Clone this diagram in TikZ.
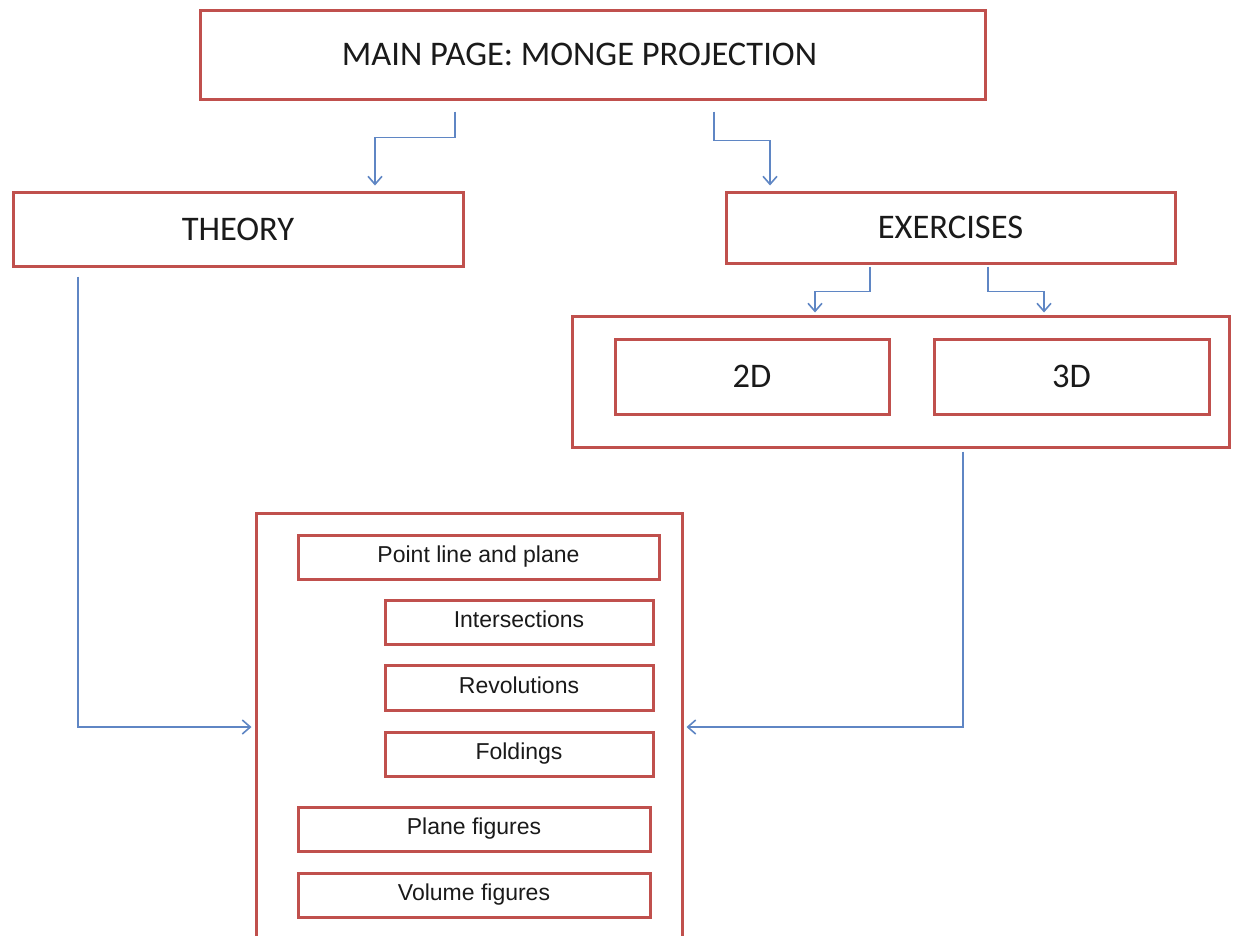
\documentclass[tikz,border=0pt]{standalone}
\usepackage{fontspec}
\usetikzlibrary{arrows.meta}
\newfontfamily\calfont{Carlito}
\newfontfamily\arifont{Liberation Sans}
\definecolor{boxred}{HTML}{C0504D}
\definecolor{linkblue}{HTML}{5F86C4}
\definecolor{txt}{HTML}{1A1A1A}
\tikzset{
  rbox/.style={draw=boxred, line width=3pt, fill=white, inner sep=0pt, text=txt},
  bigtext/.style={font=\calfont\fontsize{34.5}{40}\selectfont},
  smalltext/.style={font=\arifont\fontsize{23}{27}\selectfont},
  conn/.style={draw=linkblue, line width=1.7pt, -{Straight Barb[length=8pt,width=14pt,line width=1.6pt]}}
}
\begin{document}
\begin{tikzpicture}[x=1pt,y=-1pt]
\clip (0,0) rectangle (1235,935);
\useasboundingbox (0,0) rectangle (1235,935);
\fill[white] (0,0) rectangle (1235,935);
% top level
\node[rbox, bigtext, minimum width=785pt, minimum height=89pt] (main) at (592.5,54.5) {\hspace*{-26pt}MAIN PAGE: MONGE PROJECTION};
\node[rbox, bigtext, minimum width=450pt, minimum height=74pt] (theory) at (238,229) {THEORY};
\node[rbox, bigtext, minimum width=449pt, minimum height=71pt] (exercises) at (950.5,227.5) {EXERCISES};
% exercises group
\node[rbox, minimum width=657pt, minimum height=131pt] (outer) at (900.5,381.5) {};
\node[rbox, bigtext, minimum width=274pt, minimum height=75pt] (d2) at (752,376.5) {2D};
\node[rbox, bigtext, minimum width=275pt, minimum height=75pt] (d3) at (1071.5,376.5) {3D};
% content box
\node[rbox, minimum width=426pt, minimum height=447pt] (big) at (469,736.5) {};
\node[rbox, smalltext, minimum width=361pt, minimum height=44pt] (pl) at (478.5,557) {\raisebox{4pt}{Point line and plane}};
\node[rbox, smalltext, minimum width=268pt, minimum height=44pt] (inter) at (519,622) {\raisebox{5pt}{Intersections}};
\node[rbox, smalltext, minimum width=268pt, minimum height=45pt] (rev) at (519,687.5) {\raisebox{4pt}{Revolutions}};
\node[rbox, smalltext, minimum width=268pt, minimum height=44pt] (fold) at (519,754) {\raisebox{5pt}{Foldings}};
\node[rbox, smalltext, minimum width=352pt, minimum height=44pt] (planefig) at (474,829) {\raisebox{1pt}{Plane figures}};
\node[rbox, smalltext, minimum width=352pt, minimum height=44pt] (volfig) at (474,895) {\raisebox{1pt}{Volume figures}};
% connectors
\draw[conn, shorten <=11pt, shorten >=5pt] ([xshift=-137.5pt]main.south) -- ++(0,37) -| ([xshift=137pt]theory.north);
\draw[conn, shorten <=11pt, shorten >=5pt] ([xshift=121.5pt]main.south) -- ++(0,40) -| ([xshift=-180.5pt]exercises.north);
\draw[conn, shorten <=2pt, shorten >=2pt] ([xshift=-80.5pt]exercises.south) -- ++(0,27) -| ([xshift=-85.5pt]outer.north);
\draw[conn, shorten <=2pt, shorten >=2pt] ([xshift=37.5pt]exercises.south) -- ++(0,27) -| ([xshift=143.5pt]outer.north);
\draw[conn, shorten <=9pt, shorten >=3pt] ([xshift=-160pt]theory.south) |- ([yshift=9.5pt]big.west);
\draw[conn, shorten <=3pt, shorten >=3pt] ([xshift=62.5pt]outer.south) |- ([yshift=9.5pt]big.east);
\end{tikzpicture}
\end{document}
